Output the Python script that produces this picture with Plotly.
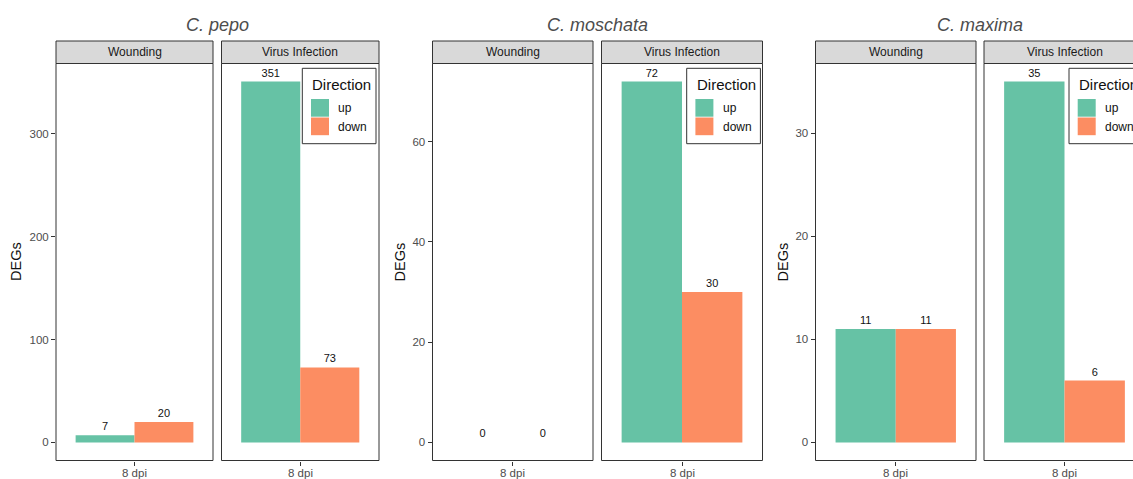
import plotly.graph_objects as go

# Differentially expressed gene counts at 8 dpi, per species and treatment
species = ["C. pepo", "C. moschata", "C. maxima"]
treatments = ["Wounding", "Virus Infection"]
timepoint = ["8 dpi"]
directions = ["up", "down"]

up_wounding = [7, 0, 11]
down_wounding = [20, 0, 11]
up_virus = [351, 72, 35]
down_virus = [73, 30, 6]

y_dtick = [100, 20, 10]

COLORS = {"up": "#66c2a5", "down": "#fc8d62"}

W, H = 1133, 479


def fx(px):
    return px / W


def fy(py):
    return 1 - py / H


# panel geometry in pixels: (left, right) for each species' two facets
panel_x = [
    [(56, 213), (221.5, 379)],
    [(432.5, 593), (601.5, 762.5)],
    [(815.5, 976), (984, 1145)],
]
strip_top, panel_top, panel_bottom = 41, 63.5, 460.5
axis_label_x = [16, 399.5, 782.5]
legend_left = [302.3, 686.7, 1069]

fig = go.Figure()
layout = dict(
    width=W,
    height=H,
    margin=dict(l=0, r=0, t=0, b=0, autoexpand=False),
    paper_bgcolor="white",
    plot_bgcolor="white",
    barmode="group",
    bargap=0.1,
    bargroupgap=0,
    showlegend=False,
    font=dict(family="Liberation Sans, Arial, sans-serif", color="#4d4d4d"),
)
shapes = []
annotations = []

values = {
    ("up", 0): up_wounding,
    ("down", 0): down_wounding,
    ("up", 1): up_virus,
    ("down", 1): down_virus,
}

for i, sp in enumerate(species):
    ymax = max(up_wounding[i], down_wounding[i], up_virus[i], down_virus[i])
    pad = ymax * 0.05
    yrange = [-pad, ymax + pad]
    for j, tr in enumerate(treatments):
        k = i * 2 + j + 1
        sfx = "" if k == 1 else str(k)
        x0, x1 = panel_x[i][j]
        vis_x1 = min(x1, W)
        # category range [-0.6, 0.6] spans the full panel; trim where the canvas ends
        xr = [-0.6, -0.6 + 1.2 * (vis_x1 - x0) / (x1 - x0)]
        for d in directions:
            v = values[(d, j)][i]
            fig.add_trace(
                go.Bar(
                    x=timepoint,
                    y=[v],
                    name=d,
                    marker=dict(color=COLORS[d], line=dict(width=0)),
                    text=[str(v)],
                    textposition="outside",
                    textfont=dict(size=11, color="#111111"),
                    cliponaxis=False,
                    xaxis="x" + sfx,
                    yaxis="y" + sfx,
                )
            )
        layout["xaxis" + sfx] = dict(
            domain=[fx(x0), fx(vis_x1)],
            anchor="y" + sfx,
            type="category",
            range=xr,
            showgrid=False,
            zeroline=False,
            showline=False,
            ticks="outside",
            ticklen=4,
            tickwidth=1,
            tickcolor="#333333",
            showticklabels=False,
        )
        # category tick label placed just under the tick mark
        for t in timepoint:
            annotations.append(dict(
                text=t, xref="x" + sfx, yref="paper",
                x=t, y=fy(472.5), xanchor="center", yanchor="middle",
                showarrow=False, font=dict(size=11.5, color="#4d4d4d"),
            ))
        layout["yaxis" + sfx] = dict(
            domain=[fy(panel_bottom), fy(panel_top)],
            anchor="x" + sfx,
            range=yrange,
            dtick=y_dtick[i],
            showgrid=False,
            zeroline=False,
            showline=False,
            ticks="outside" if j == 0 else "",
            showticklabels=(j == 0),
            ticklen=4,
            tickwidth=1,
            tickcolor="#333333",
            tickfont=dict(size=11.5, color="#4d4d4d"),
        )
        # panel border
        shapes.append(dict(
            type="rect", xref="paper", yref="paper",
            x0=fx(x0), x1=fx(x1), y0=fy(panel_bottom), y1=fy(panel_top),
            line=dict(color="#333333", width=1), fillcolor="rgba(0,0,0,0)",
            layer="above",
        ))
        # facet strip
        shapes.append(dict(
            type="rect", xref="paper", yref="paper",
            x0=fx(x0), x1=fx(x1), y0=fy(panel_top), y1=fy(strip_top),
            line=dict(color="#333333", width=1), fillcolor="#d9d9d9",
            layer="above",
        ))
        annotations.append(dict(
            text=tr, xref="paper", yref="paper",
            x=fx((x0 + x1) / 2), y=fy((strip_top + panel_top) / 2),
            xanchor="center", yanchor="middle", showarrow=False,
            font=dict(size=12, color="#1a1a1a"),
        ))

    # species title over both facets
    left = panel_x[i][0][0]
    right = panel_x[i][1][1]
    annotations.append(dict(
        text="<i>" + sp + "</i>", xref="paper", yref="paper",
        x=fx((left + right) / 2), y=fy(24.5),
        xanchor="center", yanchor="middle", showarrow=False,
        font=dict(size=18, color="#4d4d4d"),
    ))
    # y axis title
    annotations.append(dict(
        text="DEGs", xref="paper", yref="paper",
        x=fx(axis_label_x[i]), y=fy((panel_top + panel_bottom) / 2),
        xanchor="center", yanchor="middle", showarrow=False, textangle=-90,
        font=dict(size=14.5, color="#111111"),
    ))

    # legend box inside the Virus Infection facet
    lx = legend_left[i]
    shapes.append(dict(
        type="rect", xref="paper", yref="paper",
        x0=fx(lx), x1=fx(lx + 73.7), y0=fy(143.7), y1=fy(68.3),
        line=dict(color="#333333", width=1), fillcolor="white", layer="above",
    ))
    annotations.append(dict(
        text="Direction", xref="paper", yref="paper",
        x=fx(lx + 8), y=fy(84), xanchor="left", yanchor="middle",
        showarrow=False, font=dict(size=15, color="#111111"),
    ))
    for n, d in enumerate(directions):
        top = 99 + n * 18.5
        shapes.append(dict(
            type="rect", xref="paper", yref="paper",
            x0=fx(lx + 8.7), x1=fx(lx + 26.7), y0=fy(top + 17.7), y1=fy(top),
            line=dict(width=0), fillcolor=COLORS[d], layer="above",
        ))
        annotations.append(dict(
            text=d, xref="paper", yref="paper",
            x=fx(lx + 34), y=fy(top + 9), xanchor="left", yanchor="middle",
            showarrow=False, font=dict(size=12, color="#111111"),
        ))

layout["shapes"] = shapes
layout["annotations"] = annotations
fig.update_layout(**layout)
fig.write_html("out.html")
